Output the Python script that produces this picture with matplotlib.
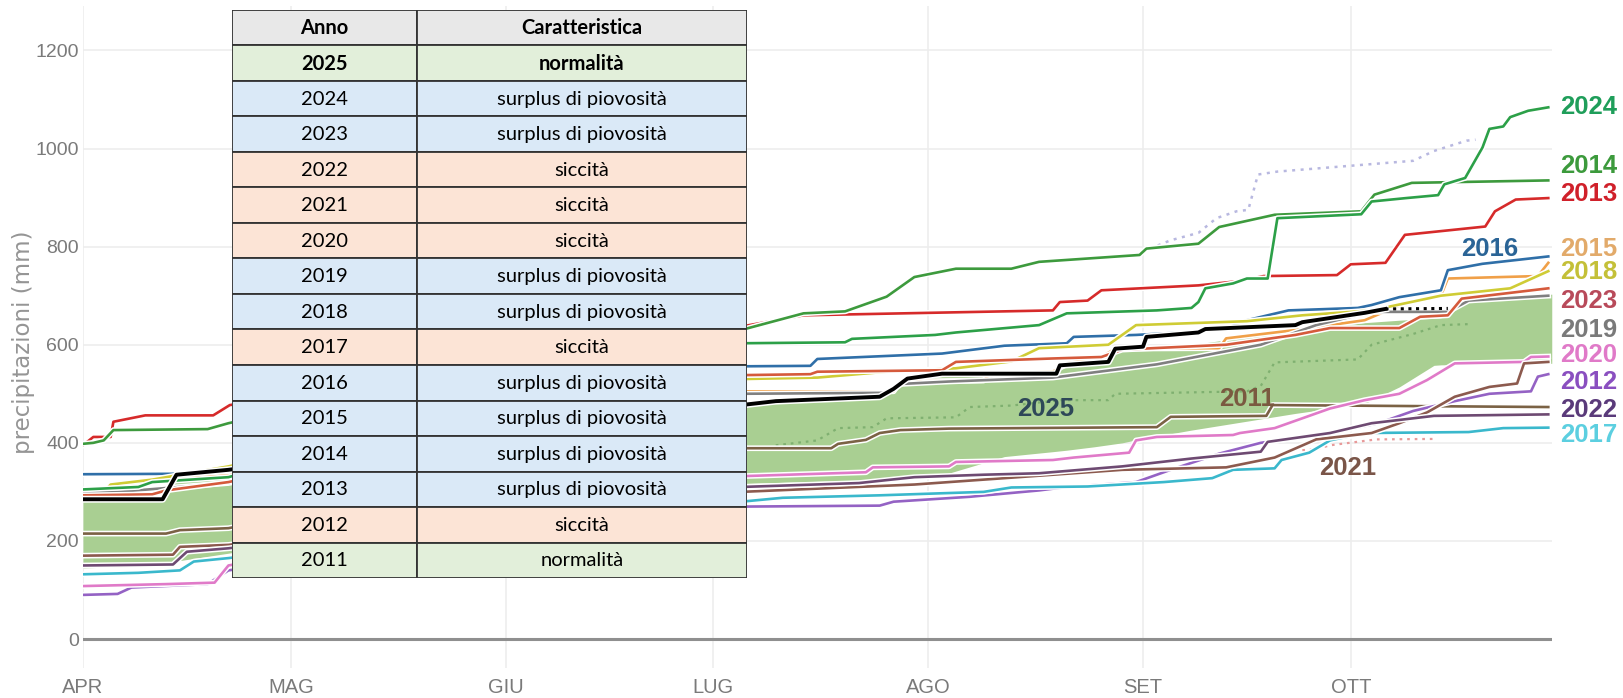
import matplotlib
matplotlib.use("Agg")
import matplotlib.pyplot as plt
import matplotlib.patheffects as pe
from matplotlib.patches import Rectangle

SANS = ['Liberation Sans', 'DejaVu Sans']

# giorni dal 1 aprile
month_days = [0, 30, 61, 91, 122, 153, 183]
month_labels = ['APR', 'MAG', 'GIU', 'LUG', 'AGO', 'SET', 'OTT']
y_ticks = [0, 200, 400, 600, 800, 1000, 1200]

# precipitazioni cumulate (mm)
d2011 = [0, 12, 14, 21, 60, 95, 108, 109, 113, 115, 118, 125, 155, 157, 170.8, 171.7, 211.5]
v2011 = [215, 215, 222, 226, 330, 389, 389, 398, 406, 420, 426, 429, 432, 453, 455, 477, 473]

d2012 = [0, 5, 7, 18, 21, 60, 95, 115, 117, 128, 138, 142, 152, 157, 164, 170, 180, 187, 192, 198, 203, 209, 210, 211.5]
v2012 = [90, 92, 105, 112, 140, 220, 270, 272, 280, 290, 303, 310, 320, 345, 378, 400, 420, 440, 465, 485, 500, 505, 535, 540]

d2013 = [0, 1.5, 4, 4.4, 9, 18.8, 21.2, 60, 95, 104, 140, 141, 145, 147, 161, 167, 170.4, 181, 183, 188, 190.8, 202.4, 203.8, 206.8, 211.5]
v2013 = [395, 412, 412, 443, 456, 456, 477, 560, 637, 660, 670, 687, 690, 711, 721, 730, 740, 742, 764, 767, 824, 841, 872, 896, 899]

d2014 = [0, 1.5, 3, 4.4, 18, 21, 60, 95, 104, 110, 116, 120, 126, 134, 138, 152.5, 153.5, 161, 164, 172, 184.5, 186.4, 191.8, 211.5]
v2014 = [398, 400, 405, 426, 428, 440, 560, 630, 664, 668, 698, 738, 755, 755, 769, 783, 796, 806, 840, 865, 872, 906, 930, 935]

d2015 = [0, 6, 7, 21, 60, 95, 117, 118, 130, 131, 140, 142, 147, 149, 164, 165, 175, 185, 190, 196, 197, 210, 211.5]
v2015 = [303, 305, 318, 335, 450, 505, 505, 525, 527, 541, 545, 562, 575, 592, 593, 613, 630, 650, 680, 700, 735, 740, 767]

d2016 = [0, 15, 21, 60, 95, 105, 106, 124, 133, 142, 143, 152, 160, 165, 168, 174, 184, 186, 190, 196, 197, 202, 211.5]
v2016 = [336, 337, 342, 480, 556, 557, 571, 582, 598, 603, 616, 620, 626, 633, 650, 670, 675, 681, 697, 711, 752, 765, 780]

d2017 = [0, 8, 14, 16, 21, 60, 95, 101, 115, 130, 134, 145, 156, 163, 166, 172, 173, 177, 180, 185, 200, 205, 211.5]
v2017 = [132, 135, 140, 158, 165, 230, 280, 288, 293, 300, 309, 311, 320, 328, 345, 348, 365, 380, 405, 420, 422, 430, 431]

d2018 = [0, 3, 4, 10, 21, 60, 95, 106, 116, 126, 134, 138, 148, 152, 168, 176, 186, 196, 206, 211.5]
v2018 = [300, 300, 315, 325, 352, 470, 530, 533, 545, 552, 566, 593, 600, 640, 648, 660, 670, 700, 715, 750]

d2019 = [0, 5, 21, 60, 95, 116, 118, 125, 140, 155, 170, 178, 186, 197, 200, 211.5]
v2019 = [298, 300, 318, 420, 500, 502, 520, 525, 533, 560, 600, 640, 667, 667, 690, 700]

d2020 = [0, 12, 19, 21, 60, 95, 113, 114, 125, 126, 140, 143, 151, 152, 155, 166, 167, 172, 174, 178, 180, 185, 190, 194, 198, 208, 209, 211.5]
v2020 = [108, 112, 115, 150, 250, 332, 340, 350, 352, 361, 365, 370, 380, 405, 412, 416, 420, 430, 440, 460, 470, 487, 500, 528, 562, 565, 575, 576]

d2021 = [0, 13, 14, 21, 60, 95, 120, 140, 150, 165, 172, 178, 186, 190, 194, 198, 203, 207, 208, 211.5]
v2021 = [170, 172, 188, 192, 260, 300, 315, 335, 345, 350, 370, 407, 420, 440, 462, 494, 514, 521, 562, 565]

d2022 = [0, 13, 15, 21, 60, 95, 112, 120, 130, 138, 150, 160, 170, 171, 180, 186, 195, 211.5]
v2022 = [150, 152, 178, 185, 250, 310, 318, 330, 335, 338, 352, 368, 382, 402, 420, 440, 455, 458]

d2023 = [0, 10, 12, 21, 60, 95, 105, 106, 124, 126, 140, 147, 150, 165, 175, 180, 190, 193, 197, 199, 211.5]
v2023 = [293, 295, 303, 320, 440, 538, 540, 545, 548, 565, 572, 575, 590, 600, 620, 634, 634, 657, 660, 694, 715]

d2024 = [0, 8, 10, 21, 60, 95, 110, 111, 123, 126, 138, 142, 155, 160, 161, 162, 166, 168, 171, 172.4, 184.5, 186, 191, 195.6, 196.5, 199.5, 202, 203, 205, 206, 208.6, 211.5]
v2024 = [305, 310, 320, 330, 480, 603, 605, 612, 620, 625, 640, 664, 670, 675, 687, 715, 725, 735, 735, 858, 866, 892, 899, 905, 927, 940, 1002, 1040, 1045, 1064, 1077, 1084]

d2025 = [0, 11.5, 13.5, 21, 60, 95, 100, 115, 117, 119, 124, 140.5, 141, 148, 149, 153, 153.5, 161, 162, 175, 176, 185, 188]
v2025 = [285, 285, 335, 345, 420, 477, 485, 494, 510, 531, 541, 541, 558, 565, 592, 596, 616, 625, 632, 640, 646, 665, 673]
d2025_prev = [188, 197]
v2025_prev = [673, 674]

# linee puntinate
d_lav = [154, 157, 161, 163.6, 166.5, 168.2, 169.6, 172.4, 192, 195, 199.7, 201]
v_lav = [796, 813, 828, 858, 872, 875, 947, 953, 975, 995, 1016, 1018]
d_med = [100, 106, 109, 114, 116, 126, 128, 134, 141, 148, 149, 168, 170, 172, 184, 186, 192, 196, 200]
v_med = [395, 405, 430, 432, 450, 452, 473, 476, 487, 487, 500, 505, 516, 564, 570, 600, 622, 640, 642]
d_pink = [176, 178, 180, 186.7, 195.4]
v_pink = [385, 387, 395, 407, 408]

# fascia di normalita
band_days = [0, 11, 14, 21, 60, 95, 115, 118, 124, 133, 140, 142, 146, 150, 152, 160, 175, 185, 190, 195, 196, 200, 205, 212]
band_hi = [283, 283, 330, 340, 420, 478, 490, 525, 535, 540, 541, 555, 562, 590, 595, 600, 630, 645, 650, 654, 655, 690, 700, 703]
band_lo = [145, 150, 160, 175, 260, 317, 325, 328, 334, 372, 382, 385, 392, 400, 406, 426, 460, 480, 514, 558, 559, 560, 561, 562]

# tabella
table_years = ['2025', '2024', '2023', '2022', '2021', '2020', '2019', '2018',
               '2017', '2016', '2015', '2014', '2013', '2012', '2011']
table_kind = ['normalità', 'surplus di piovosità', 'surplus di piovosità', 'siccità',
              'siccità', 'siccità', 'surplus di piovosità', 'surplus di piovosità',
              'siccità', 'surplus di piovosità', 'surplus di piovosità',
              'surplus di piovosità', 'surplus di piovosità', 'siccità', 'normalità']

series = {
    2011: (d2011, v2011, '#7b6245'),
    2012: (d2012, v2012, '#9462c4'),
    2013: (d2013, v2013, '#d62a2a'),
    2014: (d2014, v2014, '#3d9a3d'),
    2015: (d2015, v2015, '#f0a048'),
    2016: (d2016, v2016, '#2f6fa8'),
    2017: (d2017, v2017, '#3ab8cc'),
    2018: (d2018, v2018, '#cfcc35'),
    2019: (d2019, v2019, '#808080'),
    2020: (d2020, v2020, '#e07ac8'),
    2021: (d2021, v2021, '#8c5a4e'),
    2022: (d2022, v2022, '#6e4a72'),
    2023: (d2023, v2023, '#d55a3c'),
    2024: (d2024, v2024, '#2ca048'),
}

fig = plt.figure(figsize=(16.23, 6.98), dpi=100)
ax = fig.add_axes([0.0511, 0.0423, 0.905, 0.9487])
ax.set_xlim(0, 212)
ax.set_ylim(-60, 1290)
for s in ax.spines.values():
    s.set_visible(False)
ax.set_axisbelow(True)

ax.set_xticks(month_days)
ax.set_xticklabels(month_labels, family=SANS, fontsize=14.5, color='#7a7a7a')
ax.set_yticks(y_ticks)
ax.set_yticklabels([str(v) for v in y_ticks], family=SANS, fontsize=14, color='#7a7a7a')
ax.tick_params(axis='x', length=0, pad=7)
ax.tick_params(axis='y', length=0, pad=3)
ax.grid(color='#ededed', lw=1.2)
ax.axhline(0, color='#8f8f8f', lw=2.2, zorder=1)

ax.fill_between(band_days, band_lo, band_hi, color='#a9cf92', lw=0, zorder=1)

halo = lambda w: [pe.Stroke(linewidth=w + 2.2, foreground='white'), pe.Normal()]

for year, (d, v, c) in series.items():
    ax.plot(d, v, color=c, lw=1.9, zorder=3, path_effects=halo(1.9))

ax.plot(d_lav, v_lav, color='#b8b8e0', lw=1.8, ls=(0, (1.2, 2.2)), zorder=2.5)
ax.plot(d_med, v_med, color='#7fb070', lw=1.6, ls=(0, (1.2, 2.2)), zorder=2.5)
ax.plot(d_pink, v_pink, color='#e89a9a', lw=1.6, ls=(0, (1.2, 2.2)), zorder=2.5)

ax.plot(d2025, v2025, color='black', lw=2.8, zorder=4, path_effects=halo(2.8))
ax.plot(d2025_prev, v2025_prev, color='black', lw=2.2, ls=(0, (1, 1.5)), zorder=4)

# etichette degli anni
lab_font = dict(family=SANS, fontsize=18.5, fontweight='bold', va='center', clip_on=False)
right_labels = [(2024, 1084, '#1f9e5a'), (2014, 964, '#3c9a3c'), (2013, 907, '#d0202a'),
                (2015, 795, '#e2aa6a'), (2018, 749, '#c4c038'), (2023, 690, '#b84a5a'),
                (2019, 631, '#7a7a7a'), (2020, 580, '#e07ac8'), (2012, 525, '#8a4fc0'),
                (2022, 466, '#5a3a7a'), (2017, 416, '#5ccfe0')]
for yr, y, c in right_labels:
    ax.text(213.2, y, str(yr), color=c, ha='left', **lab_font)
inner_labels = [(2016, 203, 795, '#2a6496'), (2025, 139, 468, '#2e4858'),
                (2011, 168, 489, '#7a5a40'), (2021, 182.5, 348, '#7a5548')]
for yr, x, y, c in inner_labels:
    ax.text(x, y, str(yr), color=c, ha='center', **lab_font)

fig.text(0.0145, 0.51, 'precipitazioni (mm)', rotation=90, ha='center', va='center',
         fontsize=16.5, color='#959595')

# tabella sovrapposta
tax = fig.add_axes([0.1429, 0.1719, 0.3173, 0.8138])
tax.set_xlim(0, 1)
tax.set_ylim(len(table_years) + 1, 0)
tax.axis('off')
kind_colors = {'normalità': '#e2efda', 'surplus di piovosità': '#dae9f7', 'siccità': '#fce4d6'}
split = 0.359
rows = [('Anno', 'Caratteristica', '#e8e8e8', True)]
for i, (yr, k) in enumerate(zip(table_years, table_kind)):
    rows.append((yr, k, kind_colors[k], i == 0))
for r, (a, b, fc, bold) in enumerate(rows):
    for x0, w, txt in [(0, split, a), (split, 1 - split, b)]:
        tax.add_patch(Rectangle((x0, r), w, 1, facecolor=fc, edgecolor='#333333', lw=1.3))
        tax.text(x0 + w / 2, r + 0.52, txt, ha='center', va='center', family='Lato',
                 fontsize=14.5, fontweight='bold' if bold else 'normal', color='black')

fig.savefig('out.png', dpi=100)
